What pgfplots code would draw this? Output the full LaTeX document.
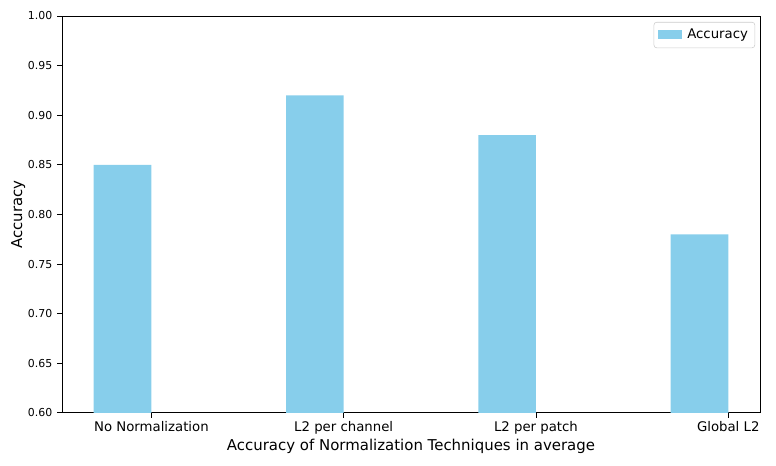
\documentclass[border=0pt]{standalone}
\usepackage{fontspec}
\setmainfont{DejaVu Sans}
\usepackage{pgfplots}
\pgfplotsset{compat=1.18}
\definecolor{skyblue}{HTML}{87CEEB}
\begin{document}
\begin{tikzpicture}
\begin{axis}[
  scale only axis,
  width=502.6bp, height=285.8bp,
  xmin=-0.465, xmax=3.165,
  ymin=0.6, ymax=1.0,
  ybar, bar width=0.3, bar shift=0pt,
  xtick={0,1,2,3},
  xticklabels={No Normalization, L2 per channel, L2 per patch, Global L2},
  x tick label style={font=\fontsize{9.6}{11}\selectfont, yshift=1pt},
  ytick={0.6,0.65,0.7,0.75,0.8,0.85,0.9,0.95,1.0},
  yticklabel style={font=\fontsize{7.9}{9}\selectfont, /pgf/number format/.cd, fixed, fixed zerofill, precision=2},
  /pgf/number format/assume math mode=true,
  tick align=outside, xtick pos=left, ytick pos=left,
  major tick length=3.5bp,
  tick style={black, line width=0.6pt},
  axis line style={line width=0.6pt},
  xlabel={Accuracy of Normalization Techniques in average},
  ylabel={Accuracy},
  xlabel style={font=\fontsize{10.8}{12}\selectfont, yshift=3pt},
  ylabel style={font=\fontsize{10.8}{12}\selectfont, yshift=-5pt},
  legend style={at={(0.993,0.985)}, anchor=north east, font=\fontsize{9.6}{11}\selectfont,
    draw=black!20, rounded corners=2pt, inner sep=3pt},
  legend image code/.code={\fill[skyblue, sharp corners] (0cm,-0.1cm) rectangle (0.6cm,0.12cm);},
  legend cell align=left,
  clip=true,
]
\addplot[fill=skyblue, draw=none] coordinates {(-0.15,0.85) (0.85,0.92) (1.85,0.88) (2.85,0.78)};
\addlegendentry{\hspace{2pt}Accuracy}
\end{axis}
\pgfresetboundingbox
\path (current axis.south west) ++(-44.64bp,-38.16bp) coordinate (bl);
\path (current axis.north east) ++(11.52bp,11.52bp) coordinate (tr);
\useasboundingbox (bl) rectangle (tr);
\end{tikzpicture}
\end{document}
